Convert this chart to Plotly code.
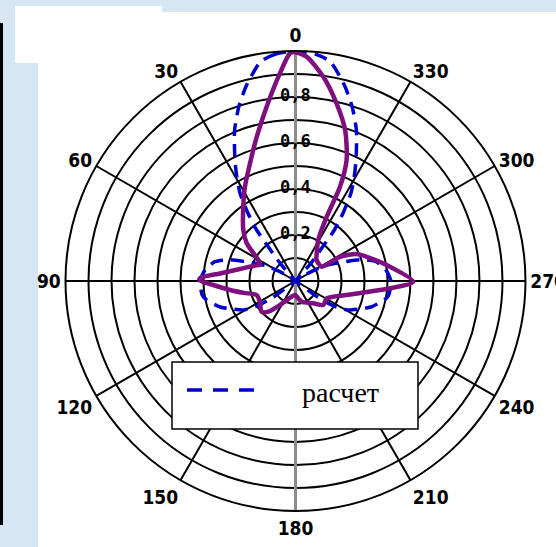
import plotly.graph_objects as go

# ---- data ----
theta_calc = [0, 5, 9, 14, 18, 22, 26.6, 29.4, 32.3, 35, 37.3, 38.5, 41, 44, 52, 58, 63, 69, 72,
              76.5, 83, 90, 98.5, 102, 109, 113, 119, 123, 126, 130, 180, 230, 234, 237, 241,
              247, 251, 258, 261.5, 270, 277, 283.5, 288, 291, 297, 302, 308, 316, 319, 321.5,
              322.7, 325, 327.7, 330.6, 333.4, 338, 342, 346, 351, 355, 360]
r_calc = [1.0, 0.99, 0.966, 0.878, 0.797, 0.707, 0.588, 0.52, 0.451, 0.36, 0.28, 0.19, 0.10, 0.0,
          0.0, 0.06, 0.15, 0.235, 0.30, 0.36, 0.396, 0.415, 0.41, 0.395, 0.347, 0.309, 0.26, 0.2,
          0.12, 0.0, 0.0, 0.0, 0.12, 0.2, 0.26, 0.309, 0.347, 0.395, 0.41, 0.415, 0.396, 0.36,
          0.30, 0.235, 0.15, 0.06, 0.0, 0.0, 0.10, 0.19, 0.28, 0.36, 0.451, 0.52, 0.588, 0.707,
          0.797, 0.878, 0.966, 0.99, 1.0]

theta_meas = [0, 1.4, 4.3, 9.4, 15, 21.1, 28.2, 35.1, 45.7, 52.3, 60.6, 65.7, 66.9, 77.8, 84.3,
              88.2, 89.5, 92.8, 97.8, 103, 109.8, 120.2, 132.2, 138.5, 147.1, 166.4, 178, 189,
              196.7, 218.6, 229.2, 241, 254.7, 263.9, 269.7, 280, 288.8, 293.8, 298.6, 298.6,
              315.3, 322.6, 331, 334.1, 334.7, 337.1, 341.8, 347, 352.3, 357.1, 360]
r_meas = [0.995, 0.99, 0.905, 0.768, 0.65, 0.549, 0.465, 0.395, 0.317, 0.268, 0.186, 0.169, 0.177,
          0.247, 0.33, 0.415, 0.417, 0.358, 0.287, 0.23, 0.18, 0.179, 0.199, 0.178, 0.124, 0.07,
          0.061, 0.076, 0.094, 0.124, 0.16, 0.155, 0.23, 0.37, 0.512, 0.402, 0.327, 0.291, 0.22,
          0.13, 0.13, 0.152, 0.204, 0.311, 0.453, 0.571, 0.691, 0.793, 0.897, 0.976, 0.995]

angle_ticks = [0, 30, 60, 90, 120, 150, 180, 210, 240, 270, 300, 330]
angle_labels = ["0", "30", "60", "90", "120", "150", "180", "210", "240", "270", "300", "330"]
radial_grid = [0.1, 0.2, 0.3, 0.4, 0.5, 0.6, 0.7, 0.8, 0.9, 1.0]
radial_label_vals = [0.2, 0.4, 0.6, 0.8]
radial_label_text = ["0,2", "0,4", "0,6", "0,8"]
legend_name = "расчет"

W, H = 556, 547
def px(x):
    return x / W
def py(y):
    return 1 - y / H

fig = go.Figure()

# gray radial axis line (0-180)
fig.add_trace(go.Scatterpolar(r=[1, 0, 1], theta=[0, 0, 180], mode="lines",
                              line=dict(color="#8c8c8c", width=3), hoverinfo="skip",
                              showlegend=False))
# radial labels
fig.add_trace(go.Scatterpolar(r=radial_label_vals, theta=[0] * len(radial_label_vals),
                              mode="text", text=radial_label_text,
                              textfont=dict(family="DejaVu Sans Mono", size=17, color="black",
                                            weight="bold"),
                              hoverinfo="skip", showlegend=False))
fig.add_trace(go.Scatterpolar(r=r_calc, theta=theta_calc, mode="lines", name=legend_name,
                              line=dict(color="#0000cc", width=3.5, dash="13px,8px",
                                        shape="spline", smoothing=0.6),
                              showlegend=False))
fig.add_trace(go.Scatterpolar(r=r_meas, theta=theta_meas, mode="lines", name="эксперимент",
                              line=dict(color="#7f0f7f", width=4.5, shape="spline", smoothing=0.7),
                              showlegend=False))

blue = "#d6e6f4"
shapes = [
    dict(type="rect", xref="paper", yref="paper", x0=px(0), x1=px(556), y0=py(6), y1=py(0),
         fillcolor=blue, line=dict(width=0), layer="below"),
    dict(type="rect", xref="paper", yref="paper", x0=px(162), x1=px(556), y0=py(12), y1=py(0),
         fillcolor=blue, line=dict(width=0), layer="below"),
    dict(type="rect", xref="paper", yref="paper", x0=px(0), x1=px(15), y0=py(547), y1=py(0),
         fillcolor=blue, line=dict(width=0), layer="below"),
    dict(type="rect", xref="paper", yref="paper", x0=px(0), x1=px(38), y0=py(547), y1=py(63),
         fillcolor=blue, line=dict(width=0), layer="below"),
    dict(type="line", xref="paper", yref="paper", x0=px(1.5), x1=px(1.5), y0=py(23), y1=py(525),
         line=dict(color="black", width=3)),
    # legend box
    dict(type="rect", xref="paper", yref="paper", x0=px(172), x1=px(418), y0=py(429), y1=py(362),
         fillcolor="white", line=dict(color="black", width=1.5), layer="above"),
    dict(type="line", xref="paper", yref="paper", x0=px(187), x1=px(258), y0=py(390), y1=py(390),
         line=dict(color="#0000cc", width=3.5, dash="15px,11px"), layer="above"),
]

fig.update_layout(
    width=W, height=H,
    margin=dict(l=0, r=0, t=0, b=0),
    paper_bgcolor="white",
    showlegend=False,
    shapes=shapes,
    annotations=[dict(text=legend_name, xref="paper", yref="paper", x=px(340), y=py(392),
                      showarrow=False, xanchor="center", yanchor="middle",
                      font=dict(family="Liberation Serif", size=28, color="black"))],
    polar=dict(
        domain=dict(x=[0.1178, 0.9451], y=[0.0658, 0.9068]),
        bgcolor="white",
        angularaxis=dict(rotation=90, direction="counterclockwise",
                         tickmode="array", tickvals=angle_ticks, ticktext=angle_labels,
                         showline=True, linecolor="black", linewidth=2,
                         showgrid=True, gridcolor="black", gridwidth=1.5, ticks="",
                         tickfont=dict(family="Liberation Sans Narrow, DejaVu Sans Condensed, sans-serif",
                                       size=19, color="black", weight="bold")),
        radialaxis=dict(range=[0, 1], tickmode="array", tickvals=radial_grid,
                        showticklabels=False, showline=False, ticks="",
                        showgrid=True, gridcolor="black", gridwidth=1.5),
    ),
)

fig.write_html("out.html", config={"displayModeBar": False},
               post_script="document.body.style.margin='0';document.body.style.overflow='hidden';")
